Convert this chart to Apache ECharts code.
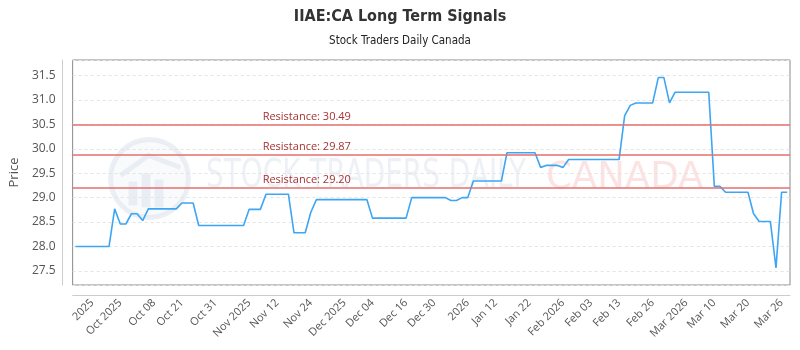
<!DOCTYPE html>
<html>
<head>
<meta charset="utf-8">
<script src="https://cdn.jsdelivr.net/npm/echarts@6/dist/echarts.min.js"></script>
<style>
html,body{margin:0;padding:0;background:#fff;}
#chart{width:800px;height:350px;}
</style>
</head>
<body>
<div id="chart"></div>
<script>
// ---- data ----
const titleText = 'IIAE:CA Long Term Signals';
const subtitleText = 'Stock Traders Daily Canada';

const prices = [
  28.00, 28.00, 28.00, 28.00, 28.00, 28.00, 28.00,
  28.77,
  28.46, 28.46,
  28.67, 28.67,
  28.53,
  28.77, 28.77, 28.77, 28.77, 28.77, 28.77,
  28.89, 28.89, 28.89,
  28.43, 28.43, 28.43, 28.43, 28.43, 28.43, 28.43, 28.43, 28.43,
  28.76, 28.76, 28.76,
  29.07, 29.07, 29.07, 29.07, 29.07,
  28.28, 28.28, 28.28,
  28.70,
  28.96, 28.96, 28.96, 28.96, 28.96, 28.96, 28.96, 28.96, 28.96, 28.96,
  28.58, 28.58, 28.58, 28.58, 28.58, 28.58, 28.58,
  29.00, 29.00, 29.00, 29.00, 29.00, 29.00, 29.00,
  28.94, 28.94,
  29.00, 29.00,
  29.34, 29.34, 29.34, 29.34, 29.34, 29.34,
  29.92, 29.92, 29.92, 29.92, 29.92, 29.92,
  29.62,
  29.66, 29.66, 29.66,
  29.62,
  29.78, 29.78, 29.78, 29.78, 29.78, 29.78, 29.78, 29.78, 29.78, 29.78,
  30.68,
  30.89,
  30.94, 30.94, 30.94, 30.94,
  31.46, 31.46,
  30.94,
  31.16, 31.16, 31.16, 31.16, 31.16, 31.16, 31.16,
  29.23, 29.23,
  29.11, 29.11, 29.11, 29.11, 29.11,
  28.67,
  28.51, 28.51, 28.51,
  27.56,
  29.11, 29.11
];

// x-axis tick labels and the data point each one belongs to
const tickLabels = ['2025', 'Oct 2025', 'Oct 08', 'Oct 21', 'Oct 31', 'Nov 2025', 'Nov 12', 'Nov 24',
  'Dec 2025', 'Dec 04', 'Dec 16', 'Dec 30', '2026', 'Jan 12', 'Jan 22', 'Feb 2026', 'Feb 03',
  'Feb 13', 'Feb 26', 'Mar 2026', 'Mar 10', 'Mar 20', 'Mar 26'];
const tickPoints = [3, 8, 14, 19, 25, 31, 36, 42, 48, 53, 59, 64, 70, 75, 81, 87, 92, 97, 103, 109, 114, 120, 126];

const resistanceLevels = [30.49, 29.87, 29.20];

// ---- build categories ----
const categories = prices.map(() => '');
tickPoints.forEach((p, k) => { categories[p] = tickLabels[k]; });
const tickSet = new Set(tickPoints);

const chart = echarts.init(document.getElementById('chart'), null, {renderer: 'canvas'});

const wmColor = 'rgba(218,226,236,0.5)';
const option = {
  animation: false,
  title: {
    text: titleText,
    subtext: subtitleText,
    left: 'center',
    top: 4,
    itemGap: 10,
    textStyle: {fontFamily: 'DejaVu Sans Condensed', fontWeight: 'bold', fontSize: 16, color: '#333'},
    subtextStyle: {fontFamily: 'DejaVu Sans Condensed', fontSize: 11.5, color: '#222'}
  },
  grid: {
    left: 70, right: 10, top: 60, bottom: 65,
    show: true, borderColor: '#8a8a8a', borderWidth: 1, backgroundColor: 'transparent'
  },
  graphic: [
    {
      type: 'group', left: 108, top: 137, z: 0, silent: true,
      children: [
        {type: 'circle', shape: {cx: 41, cy: 41, r: 39}, style: {fill: 'rgba(236,240,246,0.3)', stroke: wmColor, lineWidth: 5}},
        {type: 'rect', shape: {x: 20, y: 44, width: 9, height: 24}, style: {fill: wmColor}},
        {type: 'rect', shape: {x: 33, y: 36, width: 9, height: 34}, style: {fill: wmColor}},
        {type: 'rect', shape: {x: 46, y: 42, width: 9, height: 28}, style: {fill: wmColor}},
        {type: 'polyline', shape: {points: [[12, 38], [40, 18], [72, 30]]}, style: {stroke: wmColor, lineWidth: 5, fill: null}}
      ]
    },
    {
      type: 'group', x: 206, y: 157, scaleX: 0.775, scaleY: 1.1, z: 0, silent: true,
      children: [{
        type: 'text', x: 0, y: 0,
        style: {text: 'STOCK TRADERS DAILY', fontFamily: 'DejaVu Sans', fontSize: 36, fill: 'rgba(225,231,240,0.6)'}
      }]
    },
    {
      type: 'text', x: 546, y: 160, z: 0, silent: true,
      style: {text: 'CANADA', fontFamily: 'DejaVu Sans', fontSize: 37, fill: 'rgba(250,208,208,0.6)'}
    }
  ],
  xAxis: {
    type: 'category',
    data: categories,
    boundaryGap: true,
    offset: 10,
    axisLine: {show: true, lineStyle: {color: '#cccccc', width: 1}},
    axisTick: {show: false},
    splitLine: {show: false},
    axisLabel: {
      interval: (idx) => tickSet.has(idx),
      rotate: 45,
      margin: 6,
      fontFamily: 'Open Sans',
      fontSize: 11,
      color: '#555'
    }
  },
  yAxis: {
    type: 'value',
    name: 'Price',
    nameLocation: 'middle',
    nameGap: 39,
    nameTextStyle: {fontFamily: 'Open Sans', fontSize: 13, color: '#555'},
    min: 27.21,
    max: 31.82,
    splitNumber: 9,
    offset: 10,
    axisLine: {show: true, lineStyle: {color: '#cccccc', width: 1}},
    axisTick: {show: false},
    axisLabel: {
      showMinLabel: false, showMaxLabel: false,
      margin: 7,
      fontFamily: 'Open Sans', fontSize: 12, color: '#555',
      formatter: (v) => v.toFixed(1)
    },
    splitLine: {show: true, lineStyle: {color: '#e4e4e4', type: [3, 3], width: 1}}
  },
  series: [{
    type: 'line',
    data: prices,
    showSymbol: false,
    symbol: 'none',
    z: 3,
    lineStyle: {color: '#3da5f4', width: 1.6},
    markLine: {
      silent: true,
      symbol: ['none', 'none'],
      lineStyle: {color: 'rgba(228,110,110,0.75)', width: 2, type: 'solid'},
      label: {
        show: true,
        position: 'insideStartTop',
        distance: [190, 3],
        fontFamily: 'Open Sans',
        fontSize: 11,
        color: '#a83232',
        formatter: (p) => 'Resistance: ' + p.value.toFixed(2)
      },
      data: resistanceLevels.map(v => ({yAxis: v}))
    }
  }]
};
chart.setOption(option);
</script>
</body>
</html>
